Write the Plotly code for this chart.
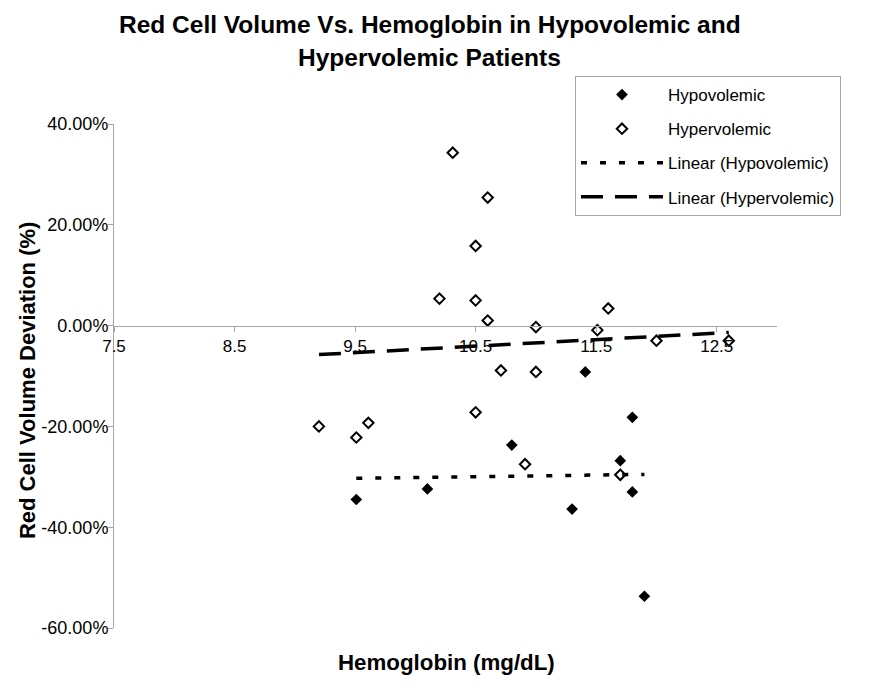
import numpy as np
import plotly.graph_objects as go

# Hemoglobin (mg/dL) and red cell volume deviation (fraction)
hypo_hgb = [9.51, 10.10, 10.80, 11.30, 11.41, 11.70, 11.80, 11.80, 11.90]
hypo_dev = [-0.345, -0.324, -0.237, -0.364, -0.092, -0.268, -0.182, -0.330, -0.537]

hyper_hgb = [9.20, 9.51, 9.61, 10.20, 10.31, 10.50, 10.50, 10.50, 10.60, 10.60,
             10.71, 10.91, 11.00, 11.00, 11.51, 11.60, 11.70, 12.00, 12.60]
hyper_dev = [-0.200, -0.222, -0.193, 0.0535, 0.343, 0.158, 0.050, -0.172, 0.254, 0.010,
             -0.089, -0.275, -0.003, -0.092, -0.009, 0.034, -0.296, -0.030, -0.030]

x_ticks = [7.5, 8.5, 9.5, 10.5, 11.5, 12.5]
x_ticklabels = ["7.5", "8.5", "9.5", "10.5", "11.5", "12.5"]
y_ticks = [-0.6, -0.4, -0.2, 0.0, 0.2, 0.4]
y_ticklabels = ["-60.00%", "-40.00%", "-20.00%", "0.00%", "20.00%", "40.00%"]


def trend(xs, ys):
    k, b = np.polyfit(xs, ys, 1)
    xe = [min(xs), max(xs)]
    return xe, [k * v + b for v in xe]


hypo_tx, hypo_ty = trend(hypo_hgb, hypo_dev)
hyper_tx, hyper_ty = trend(hyper_hgb, hyper_dev)

FONT = "Liberation Sans, Arial, sans-serif"
AXIS_GRAY = "#a6a6a6"

fig = go.Figure()
fig.add_trace(go.Scatter(
    x=hypo_hgb, y=hypo_dev, mode="markers", name="Hypovolemic", legendgroup="a",
    marker=dict(symbol="diamond", size=9, color="black", line=dict(width=0)),
))
fig.add_trace(go.Scatter(
    x=hyper_hgb, y=hyper_dev, mode="markers", name="Hypervolemic", legendgroup="b",
    marker=dict(symbol="diamond-open", size=8, color="black", line=dict(width=2, color="black")),
))
fig.add_trace(go.Scatter(
    x=hypo_tx, y=hypo_ty, mode="lines", name="Linear (Hypovolemic)", legendgroup="c",
    line=dict(color="black", width=3.5, dash="6px,13px"),
))
fig.add_trace(go.Scatter(
    x=hyper_tx, y=hyper_ty, mode="lines", name="Linear (Hypervolemic)", legendgroup="d",
    line=dict(color="black", width=3.5, dash="22px,12px"),
))

fig.update_layout(
    width=874, height=689,
    margin=dict(l=114, r=97, t=124, b=61),
    paper_bgcolor="white", plot_bgcolor="white",
    font=dict(family=FONT, color="black"),
    showlegend=True,
    legend=dict(
        x=0.6953, y=1.0952, xanchor="left", yanchor="top",
        bordercolor=AXIS_GRAY, borderwidth=1, bgcolor="white",
        font=dict(size=17, family=FONT), itemwidth=82,
        traceorder="grouped", tracegroupgap=9,
    ),
    xaxis=dict(
        range=[7.5, 13.0], tickvals=x_ticks, ticktext=x_ticklabels,
        anchor="free", position=0.6,
        showline=True, linecolor=AXIS_GRAY, linewidth=1,
        ticks="outside", ticklen=5, tickcolor=AXIS_GRAY,
        showgrid=False, zeroline=False,
        tickfont=dict(size=17, family=FONT, color="black"),
    ),
    yaxis=dict(
        range=[-0.6, 0.4], tickvals=y_ticks, ticktext=y_ticklabels,
        showline=True, linecolor=AXIS_GRAY, linewidth=1,
        ticks="outside", ticklen=5, tickcolor=AXIS_GRAY,
        showgrid=False, zeroline=False, ticklabelstandoff=-4,
        tickfont=dict(size=18, family=FONT, color="black"),
    ),
    annotations=[
        dict(text="<b>Red Cell Volume Vs. Hemoglobin in Hypovolemic and</b>",
             xref="paper", yref="paper", x=0.4766, y=1.198, xanchor="center", yanchor="middle",
             showarrow=False, font=dict(size=24.5, family=FONT, color="black")),
        dict(text="<b>Hypervolemic Patients</b>",
             xref="paper", yref="paper", x=0.4766, y=1.131, xanchor="center", yanchor="middle",
             showarrow=False, font=dict(size=24.5, family=FONT, color="black")),
        dict(text="<b>Hemoglobin (mg/dL)</b>",
             xref="paper", yref="paper", x=0.5008, y=-0.0675, xanchor="center", yanchor="middle",
             showarrow=False, font=dict(size=22.3, family=FONT, color="black")),
        dict(text="<b>Red Cell Volume Deviation (%)</b>", textangle=-90,
             xref="paper", yref="paper", x=-0.1312, y=0.49, xanchor="center", yanchor="middle",
             showarrow=False, font=dict(size=22, family=FONT, color="black")),
    ],
)

fig.write_html("out.html", config={"displayModeBar": False},
               post_script="document.body.style.margin='0px';")
